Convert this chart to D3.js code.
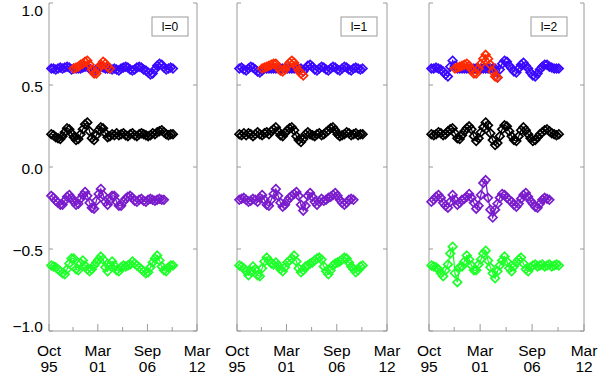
<!DOCTYPE html>
<html>
<head>
<meta charset="utf-8">
<script src="https://cdn.jsdelivr.net/npm/d3@7"></script>
<style>
  body { margin: 0; background: #fff; }
  svg { display: block; }
  text { font-family: "Liberation Sans", Arial, sans-serif; fill: #000; }
</style>
</head>
<body>
<div id="chart"></div>
<script>
// quarter-year sample times (decimal years)
const yearsLong = [1996, 1996.25, 1996.5, 1996.75, 1997, 1997.25, 1997.5, 1997.75, 1998, 1998.25,
    1998.5, 1998.75, 1999, 1999.25, 1999.5, 1999.75, 2000, 2000.25, 2000.5, 2000.75,
    2001, 2001.25, 2001.5, 2001.75, 2002, 2002.25, 2002.5, 2002.75, 2003, 2003.25,
    2003.5, 2003.75, 2004, 2004.25, 2004.5, 2004.75, 2005, 2005.25, 2005.5, 2005.75,
    2006, 2006.25, 2006.5, 2006.75, 2007, 2007.25, 2007.5, 2007.75, 2008, 2008.25,
    2008.5, 2008.75, 2009, 2009.25, 2009.5];
const yearsShort = yearsLong.slice(0, 51);      // to 2008.5
const yearsRed0 = yearsLong.slice(10, 27);      // 1998.5 - 2002.5
const yearsRed = yearsLong.slice(10, 29);       // 1998.5 - 2003.0

// vertical offsets of the four curves
const levelTop = 0.6, levelBlack = 0.2, levelPurple = -0.2, levelGreen = -0.6;

// l=0 shifts
const blueL0 = [0, 0, -0.006, 0, 0.006, 0, 0.006, 0.012, 0.006, -0.006,
    0, 0, 0, 0, 0.006, 0.012, 0.012, 0, -0.012, -0.018,
    -0.006, 0.006, 0.012, 0.006, 0, 0, 0, -0.006, 0, -0.006,
    -0.012, 0, 0.006, 0.012, 0.006, -0.006, -0.012, -0.006, 0.006, 0.012,
    0.006, -0.006, -0.012, -0.024, -0.036, -0.030, -0.006, 0.018, 0.030, 0.024,
    0.006, -0.006, 0, 0.006, 0];
const redL0 = [0, 0.006, 0.012, 0.024, 0.030, 0.042, 0.048, 0.024, -0.006, -0.030,
    -0.030, 0, 0.024, 0.042, 0.030, 0.012, 0];
const blackL0 = [0, -0.006, -0.018, -0.024, -0.030, -0.012, 0.012, 0.036, 0.030, 0.006,
    -0.018, -0.036, -0.030, 0, 0.030, 0.060, 0.072, 0.018, -0.024, -0.036,
    -0.006, 0.024, 0.042, 0.036, 0.006, -0.018, -0.012, 0, -0.006, 0.006,
    -0.006, 0, 0.006, -0.006, -0.012, 0, 0.006, -0.006, -0.012, 0,
    0.006, 0, -0.006, -0.012, -0.006, 0.006, 0, 0.012, 0.018, 0.024,
    0.012, 0, -0.006, 0, 0];
const purpleL0 = [0.024, 0.012, -0.006, -0.018, -0.030, -0.030, -0.006, 0.018, 0.030, 0.012,
    -0.012, -0.030, -0.024, 0.006, 0.030, 0.048, 0.024, -0.018, -0.048, -0.054,
    -0.006, 0.036, 0.066, 0.030, -0.012, -0.030, -0.006, 0.024, 0.024, -0.012,
    -0.036, -0.036, -0.012, 0.006, 0.018, 0.024, 0.012, -0.006, -0.012, 0,
    0.006, -0.006, -0.012, 0, 0.006, 0, -0.006, 0, 0.006, 0,
    0];
const greenL0 = [0, -0.006, -0.012, -0.024, -0.036, -0.048, -0.054, -0.024, 0.012, 0.042,
    0.042, -0.024, -0.030, 0.012, 0.030, 0, -0.024, -0.036, -0.024, 0,
    0.018, 0.036, 0.054, 0.036, -0.012, -0.036, 0, 0.024, 0, -0.030,
    -0.036, -0.012, 0, -0.006, 0, 0.006, 0.024, 0.012, 0, -0.012,
    -0.024, -0.036, -0.048, -0.042, -0.012, 0.018, 0.042, 0.060, 0.030, -0.006,
    -0.030, -0.036, -0.012, 0, 0];

// l=1 shifts
const blueL1 = [0, 0.006, -0.006, -0.012, 0, 0.012, 0.006, -0.006, -0.018, -0.024,
    -0.012, 0, 0, 0, 0, 0, 0, 0, 0, 0,
    0, 0, 0, 0, 0, 0, 0, 0, -0.018, 0,
    0.018, 0.024, 0.012, -0.006, -0.012, 0, 0.012, 0.006, -0.006, -0.012,
    0, 0.012, 0.006, -0.006, -0.012, 0, 0.012, 0.006, -0.006, -0.012,
    0, 0.006, 0, -0.006, 0];
const redL1 = [0, 0.006, 0.012, 0.018, 0.024, 0.030, 0.030, 0.006, -0.012, -0.018,
    -0.006, 0.018, 0.036, 0.048, 0.036, 0.012, -0.012, -0.030, -0.042];
const blackL1 = [0, -0.006, 0.006, -0.006, 0.006, 0, -0.012, 0, 0.012, 0,
    -0.006, 0.006, 0.012, 0, 0.018, 0.030, 0.042, 0.018, -0.006, -0.012,
    0.006, 0.024, 0.036, 0.042, 0.024, -0.012, -0.036, -0.048, -0.030, 0,
    0.012, 0, -0.006, -0.012, 0, 0.006, -0.006, 0, 0.012, 0.024,
    0.036, 0.042, 0.024, 0, -0.012, -0.006, 0, 0.012, 0.006, -0.006,
    0, 0.006, -0.006, 0, 0];
const purpleL1 = [0, 0.006, 0.012, 0, -0.012, -0.006, 0.006, 0, -0.012, 0.012,
    0.030, 0, -0.030, -0.036, 0, 0.036, 0.066, 0.024, -0.018, -0.042,
    -0.030, -0.006, 0.012, 0.024, 0.036, 0.048, 0.024, -0.030, -0.066, -0.036,
    0.024, 0.042, 0.018, -0.012, -0.030, -0.012, 0.006, -0.006, 0, 0.012,
    0.018, 0.030, 0.042, 0.024, 0, -0.018, -0.030, -0.018, 0, 0.006,
    0];
const greenL1 = [0, -0.006, -0.018, -0.036, -0.060, -0.036, -0.006, -0.024, -0.060, -0.066,
    -0.018, 0.024, 0.048, 0.030, 0.012, 0.006, 0.018, 0, -0.024, -0.036,
    -0.012, 0.018, 0.030, 0.042, 0.060, 0.024, -0.018, -0.042, -0.030, -0.006,
    0, 0.012, 0.018, 0.030, 0.042, 0.048, 0.036, -0.006, -0.036, -0.054,
    -0.030, 0, 0.012, 0.018, 0.024, 0.036, 0.048, 0.042, 0.018, -0.006,
    -0.024, -0.042, -0.030, -0.006, 0];

// l=2 shifts
const blueL2 = [0, 0, 0.006, 0, -0.006, -0.018, -0.036, -0.048, 0.012, 0.048,
    0.018, 0, 0, 0, 0, 0, 0, 0, 0, 0,
    0, 0, 0, 0, 0, 0, 0, 0, -0.054, -0.006,
    0.030, 0.048, 0.042, 0.018, 0, -0.018, -0.024, 0, 0.024, 0.036,
    0.018, 0, -0.024, -0.042, -0.048, -0.030, -0.006, 0.012, 0.024, 0.024,
    0.012, 0.006, 0, 0, 0];
const redL2 = [0, 0.006, 0.012, 0.018, 0.024, 0.030, 0.018, -0.006, -0.030, -0.030,
    0, 0.030, 0.060, 0.084, 0.060, 0.024, -0.018, -0.048, -0.054];
const blackL2 = [0, -0.006, 0, 0.012, 0.006, -0.006, 0, 0.018, 0.030, 0.036,
    0.006, -0.024, -0.030, -0.006, 0.018, 0.036, 0.048, 0.030, -0.012, -0.042,
    -0.024, 0.012, 0.042, 0.072, 0.054, 0.006, -0.036, -0.066, -0.054, -0.012,
    0.030, 0.054, 0.048, 0.018, -0.012, -0.036, -0.042, -0.012, 0.024, 0.042,
    0.024, 0, -0.024, -0.042, -0.036, -0.018, 0, 0.012, 0.024, 0.030,
    0.018, 0.006, 0, -0.006, 0];
const purpleL2 = [-0.012, 0, 0.018, 0.030, 0.012, -0.018, -0.036, -0.048, -0.012, 0.030,
    0, -0.030, -0.018, 0, 0.006, 0.018, 0.036, 0.012, -0.018, -0.054,
    -0.036, 0.030, 0.102, 0.120, 0.012, -0.060, -0.108, -0.060, -0.024, 0.012,
    0.036, 0.030, 0.012, 0, -0.012, -0.030, -0.042, -0.024, 0.006, 0.030,
    0.042, 0.018, -0.006, -0.024, -0.042, -0.048, -0.024, 0, 0.012, 0.006,
    0];
const greenL2 = [0, -0.006, -0.012, -0.024, -0.048, -0.066, -0.030, 0.006, 0.072, 0.114,
    -0.048, -0.102, -0.012, -0.006, 0.024, 0.060, 0.036, 0, -0.030, -0.030,
    0.006, 0.036, 0.072, 0.090, 0.030, -0.012, -0.048, -0.078, -0.036, 0,
    0.030, 0.054, 0.024, -0.018, -0.036, -0.006, 0.018, 0.036, 0.048, 0.012,
    -0.024, -0.036, -0.012, 0, 0.006, -0.006, 0, 0.006, -0.006, 0,
    0.006, -0.006, 0, 0.006, 0];

const degreeLabels = ["l=0", "l=1", "l=2"];
const xTickDates = [[1995, 9], [2001, 2], [2006, 8], [2012, 2]];   // [year, month index]
const xTickLabels = [["Oct", "95"], ["Mar", "01"], ["Sep", "06"], ["Mar", "12"]];
const xMinorDates = [[1998, 5], [2003, 11], [2009, 5]];
const yTicks = [-1.0, -0.5, 0.0, 0.5, 1.0];

function init() {
    const w = 600, h = 374;
    const top = 3, bottom = 331;
    const axisColor = "#9a9a9a";

    const svg = d3.select("#chart").append("svg")
        .attr("width", w)
        .attr("height", h);

    const toDate = function (y) {
        const yr = Math.floor(y);
        return new Date(yr, Math.round((y - yr) * 12), 1);
    };

    const y = d3.scaleLinear().domain([-1, 1]).range([bottom, top]);

    const blue = "#3a08ff", red = "#ff2a00", black = "#000000", purple = "#7a1ccc", green = "#1eff2a";

    const panels = [
        { left: 49, right: 197, legendX: 152, series: [
            { years: yearsLong, shift: blueL0, level: levelTop, color: blue },
            { years: yearsRed0, shift: redL0, level: levelTop, color: red },
            { years: yearsLong, shift: blackL0, level: levelBlack, color: black },
            { years: yearsShort, shift: purpleL0, level: levelPurple, color: purple },
            { years: yearsLong, shift: greenL0, level: levelGreen, color: green }] },
        { left: 237, right: 387, legendX: 341, series: [
            { years: yearsLong, shift: blueL1, level: levelTop, color: blue },
            { years: yearsRed, shift: redL1, level: levelTop, color: red },
            { years: yearsLong, shift: blackL1, level: levelBlack, color: black },
            { years: yearsShort, shift: purpleL1, level: levelPurple, color: purple },
            { years: yearsLong, shift: greenL1, level: levelGreen, color: green }] },
        { left: 429, right: 584, legendX: 531, series: [
            { years: yearsLong, shift: blueL2, level: levelTop, color: blue },
            { years: yearsRed, shift: redL2, level: levelTop, color: red },
            { years: yearsLong, shift: blackL2, level: levelBlack, color: black },
            { years: yearsShort, shift: purpleL2, level: levelPurple, color: purple },
            { years: yearsLong, shift: greenL2, level: levelGreen, color: green }] }
    ];

    const r = 4.3; // diamond half diagonal
    const diamond = "M0," + (-r) + "L" + r + ",0L0," + r + "L" + (-r) + ",0Z";

    panels.forEach(function (p, pi) {
        const x = d3.scaleTime()
            .domain([new Date(1995, 9, 1), new Date(2012, 2, 1)])
            .range([p.left, p.right]);

        const g = svg.append("g");

        // axes lines (left, right, bottom)
        g.append("line").attr("x1", p.left).attr("x2", p.left).attr("y1", top).attr("y2", bottom)
            .attr("stroke", axisColor);
        g.append("line").attr("x1", p.right).attr("x2", p.right).attr("y1", top).attr("y2", bottom)
            .attr("stroke", axisColor);
        g.append("line").attr("x1", p.left).attr("x2", p.right).attr("y1", bottom).attr("y2", bottom)
            .attr("stroke", axisColor);

        // y ticks on both sides
        g.selectAll(".ytl").data(yTicks).enter().append("line")
            .attr("x1", p.left).attr("x2", p.left + 4)
            .attr("y1", d => y(d)).attr("y2", d => y(d))
            .attr("stroke", axisColor);
        g.selectAll(".ytr").data(yTicks).enter().append("line")
            .attr("x1", p.right - 4).attr("x2", p.right)
            .attr("y1", d => y(d)).attr("y2", d => y(d))
            .attr("stroke", axisColor);

        // x ticks
        g.selectAll(".xt").data(xTickDates).enter().append("line")
            .attr("x1", d => x(new Date(d[0], d[1], 1))).attr("x2", d => x(new Date(d[0], d[1], 1)))
            .attr("y1", bottom).attr("y2", bottom - 7)
            .attr("stroke", axisColor);
        g.selectAll(".xm").data(xMinorDates).enter().append("line")
            .attr("x1", d => x(new Date(d[0], d[1], 1))).attr("x2", d => x(new Date(d[0], d[1], 1)))
            .attr("y1", bottom).attr("y2", bottom - 4)
            .attr("stroke", axisColor);

        // x tick labels, two lines
        xTickDates.forEach(function (d, i) {
            const t = g.append("text")
                .attr("text-anchor", "middle")
                .attr("font-size", 15.5);
            t.append("tspan").attr("x", x(new Date(d[0], d[1], 1))).attr("y", 356).text(xTickLabels[i][0]);
            t.append("tspan").attr("x", x(new Date(d[0], d[1], 1))).attr("y", 372).text(xTickLabels[i][1]);
        });

        // y labels only on the first panel
        if (pi === 0) {
            g.selectAll(".yl").data(yTicks).enter().append("text")
                .attr("x", 43)
                .attr("y", d => Math.min(332, Math.max(16, y(d) + 7)))
                .attr("text-anchor", "end")
                .attr("font-size", 15.5)
                .text(d => (d < 0 ? "\u2212" : "") + Math.abs(d).toFixed(1));
        }

        // series: connecting line + hollow diamonds
        p.series.forEach(function (s) {
            const pts = s.years.map((yr, i) => [x(toDate(yr)), y(s.level + s.shift[i])]);
            g.append("path")
                .datum(pts)
                .attr("d", d3.line())
                .attr("fill", "none")
                .attr("stroke", s.color)
                .attr("stroke-width", 1.3);
            g.selectAll(null).data(pts).enter().append("path")
                .attr("d", diamond)
                .attr("transform", d => "translate(" + d[0] + "," + d[1] + ")")
                .attr("fill", "none")
                .attr("stroke", s.color)
                .attr("stroke-width", 1.7);
        });

        // legend box
        g.append("rect")
            .attr("x", p.legendX).attr("y", 17)
            .attr("width", 36).attr("height", 19)
            .attr("fill", "#fff")
            .attr("stroke", axisColor);
        g.append("text")
            .attr("x", p.legendX + 18).attr("y", 31)
            .attr("text-anchor", "middle")
            .attr("font-size", 12)
            .text(degreeLabels[pi]);
    });
}

window.addEventListener('load', init);
</script>
</body>
</html>
